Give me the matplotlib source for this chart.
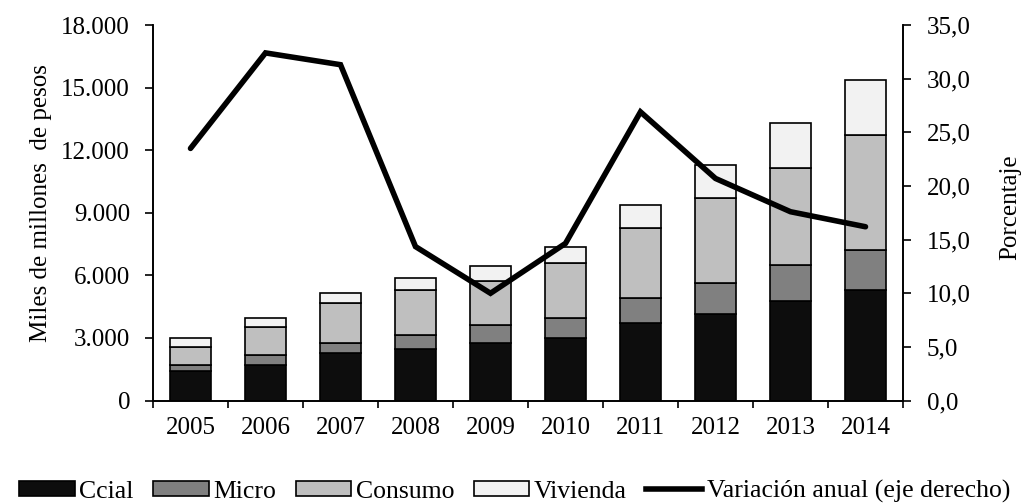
import matplotlib
matplotlib.use("Agg")
import matplotlib.pyplot as plt
import numpy as np
from matplotlib.lines import Line2D
from matplotlib.patches import Patch

plt.rcParams['font.family'] = ['Liberation Serif', 'DejaVu Serif']

years = ["2005", "2006", "2007", "2008", "2009", "2010", "2011", "2012", "2013", "2014"]
ccial = [1420, 1720, 2280, 2460, 2750, 3010, 3720, 4130, 4770, 5310]
micro = [290, 460, 480, 680, 890, 930, 1200, 1500, 1740, 1920]
consumo = [870, 1360, 1920, 2170, 2110, 2640, 3370, 4060, 4620, 5490]
vivienda = [410, 420, 480, 550, 700, 790, 1080, 1610, 2160, 2630]
variacion = [23.5, 32.4, 31.3, 14.35, 10.0, 14.65, 26.9, 20.7, 17.6, 16.2]

left_ticks = [0, 3000, 6000, 9000, 12000, 15000, 18000]
left_labels = ["0", "3.000", "6.000", "9.000", "12.000", "15.000", "18.000"]
right_ticks = [0, 5, 10, 15, 20, 25, 30, 35]
right_labels = ["0,0", "5,0", "10,0", "15,0", "20,0", "25,0", "30,0", "35,0"]

series = [("Ccial", ccial, "#0d0d0d"), ("Micro", micro, "#808080"),
          ("Consumo", consumo, "#bfbfbf"), ("Vivienda", vivienda, "#f2f2f2")]

FS = 18
W, H = 1023, 504
fig = plt.figure(figsize=(W / 100, H / 100), dpi=100)
ax = fig.add_axes([153 / W, 1 - 400.6 / H, 750 / W, 375.6 / H])
x = np.arange(len(years))
bottom = np.zeros(len(years))
for name, vals, col in series:
    ax.bar(x, vals, width=0.55, bottom=bottom, color=col, edgecolor="black", linewidth=1.2, label=name)
    bottom += np.array(vals)

ax.set_xlim(-0.5, len(years) - 0.5)
ax.set_ylim(0, 18000)
ax.set_yticks(left_ticks)
ax.set_yticklabels(left_labels, fontsize=FS)
ax.set_xticks(x)
ax.set_xticklabels(years, fontsize=FS)
ax.tick_params(axis="x", which="major", length=0, pad=12)
ax.set_xticks(np.arange(-0.5, len(years)), minor=True)
ax.tick_params(axis="x", which="minor", length=5, width=1.2, direction="out")
ax.tick_params(axis="y", length=5.5, width=1.2, direction="out", pad=11)
ax.spines["top"].set_visible(False)
for s in ax.spines.values():
    s.set_linewidth(1.2)

ax2 = ax.twinx()
ax2.plot(x, variacion, color="black", linewidth=4.0, solid_capstyle="round", solid_joinstyle="miter")
ax2.set_ylim(0, 35)
ax2.set_yticks(right_ticks)
ax2.set_yticklabels(right_labels, fontsize=FS)
ax2.tick_params(axis="y", length=6, width=1.2, direction="out", pad=11)
ax2.spines["top"].set_visible(False)
for s in ax2.spines.values():
    s.set_linewidth(1.2)

fig.text(41 / W, 1 - 203 / H, "Miles de millones  de pesos", rotation=90, ha="center", va="center", fontsize=FS)
fig.text(1010 / W, 1 - 207 / H, "Porcentaje", rotation=90, ha="center", va="center", fontsize=FS)

handles = [Patch(facecolor=c, edgecolor="black", linewidth=1.2) for _, _, c in series]
handles.append(Line2D([0], [0], color="black", linewidth=4.0))
labels = [n for n, _, _ in series] + ["Variación anual (eje derecho)"]
fig.legend(handles, labels, loc="center", bbox_to_anchor=(0.503, 0.0244), ncol=5, frameon=False,
           fontsize=18.5, handlelength=2.16, handleheight=0.55, handletextpad=0.19, columnspacing=0.75,
           borderpad=0, borderaxespad=0)

fig.savefig("out.png", dpi=100)
